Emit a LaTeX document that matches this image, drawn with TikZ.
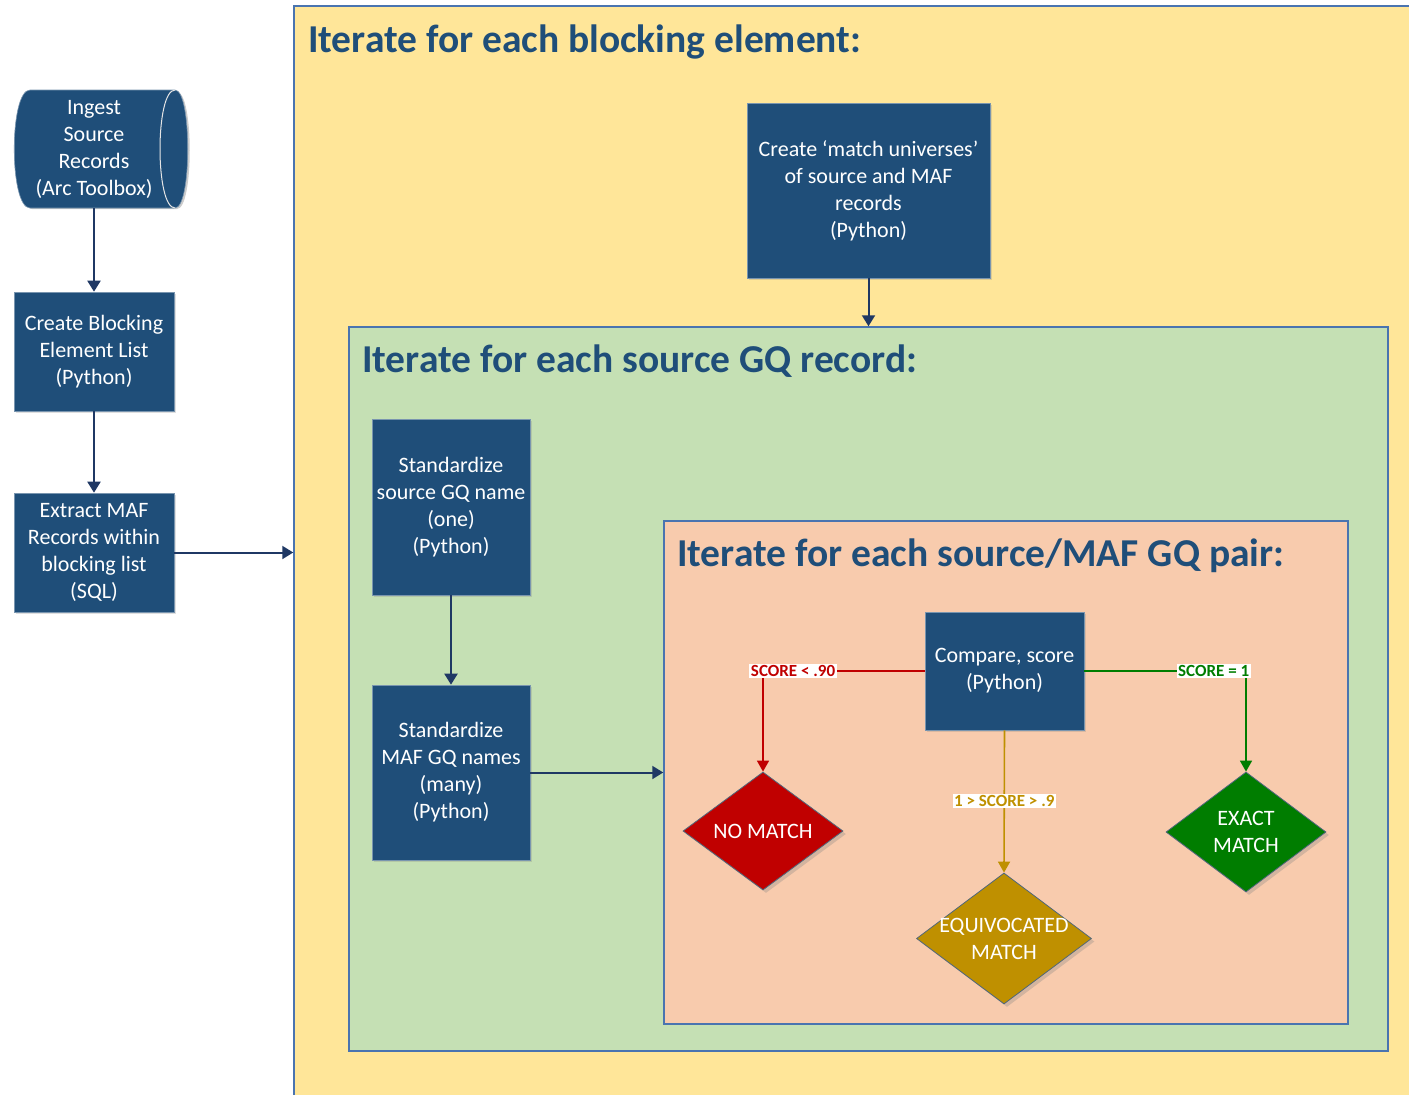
\documentclass[tikz,border=0pt]{standalone}
\usepackage{fontspec}
\setmainfont{Carlito}
\usetikzlibrary{arrows.meta,shapes.geometric,shadows}
\definecolor{navy}{HTML}{1F4E79}
\definecolor{arrowc}{HTML}{1F3864}
\definecolor{titlec}{HTML}{1F4E79}
\definecolor{yel}{HTML}{FFE699}
\definecolor{grn}{HTML}{C5E0B4}
\definecolor{salmon}{HTML}{F8CBAD}
\definecolor{framec}{HTML}{4A74B0}
\definecolor{nored}{HTML}{C00000}
\definecolor{exgreen}{HTML}{007D00}
\definecolor{gold}{HTML}{BF9000}
\tikzset{
  frame/.style={draw=framec, line width=1.5pt, inner sep=0pt},
  titletext/.style={text=titlec, font=\fontsize{39.5}{44}\selectfont\bfseries, inner sep=0pt},
  procbox/.style={fill=navy, draw=navy!60!white, line width=0.6pt, text=white, align=center,
    inner sep=0pt, font=\fontsize{22}{27}\selectfont,
    drop shadow={shadow xshift=2pt, shadow yshift=-2pt, opacity=0.25}},
  decision/.style={diamond, draw=navy!50!gray, line width=0.8pt, inner sep=0pt,
    drop shadow={shadow xshift=3pt, shadow yshift=-3pt, opacity=0.3}},
  dtext/.style={text=white, align=center, font=\fontsize{22}{27}\selectfont, inner sep=0pt},
  arr/.style={draw=arrowc, line width=2pt, -{Triangle[width=13pt,length=11pt]}},
  carr/.style={line width=1.6pt, -{Triangle[width=12pt,length=11pt]}},
  lbl/.style={fill=white, inner sep=1.5pt, font=\fontsize{17}{20}\selectfont\bfseries},
}
\begin{document}
\begin{tikzpicture}[x=1pt,y=-1pt]
\useasboundingbox (0,0) rectangle (1409,1095);
\clip (0,0) rectangle (1409,1095);
\fill[white] (0,0) rectangle (1409,1095);

% containers
\node[frame, fill=yel, minimum width=1146pt, minimum height=1104pt] (blk) at (867,558) {};
\node[titletext, anchor=base west] (t1) at (308,52) {Iterate for each blocking element:};
\node[frame, fill=grn, minimum width=1039pt, minimum height=724pt] (gq) at (868.5,689) {};
\node[titletext, anchor=base west] (t2) at (362,372) {Iterate for each source GQ record:};
\node[frame, fill=salmon, minimum width=684pt, minimum height=503pt] (pair) at (1006,772.5) {};
\node[titletext, anchor=base west] (t3) at (677,566) {Iterate for each source/MAF GQ pair:};

% ingest shape (direct data)
\fill[black, opacity=0.2] (32,92) -- (177,92) .. controls (194,92) and (194,209) .. (177,209) -- (32,209) .. controls (11,209) and (11,92) .. (32,92) -- cycle;
\filldraw[fill=navy, draw=navy!60!white, line width=0.6pt] (30,90) -- (175,90) .. controls (192,90) and (192,208) .. (175,208) -- (30,208) .. controls (9,208) and (9,90) .. (30,90) -- cycle;
\draw[white!80!gray, line width=1pt] (175,90) .. controls (155,90) and (155,208) .. (175,208);
\node[text=white, align=center, inner sep=0pt, font=\fontsize{22}{27}\selectfont,
  minimum width=150pt, minimum height=118pt] (ingest) at (94,149)
  {Ingest\\Source\\Records\\(Arc Toolbox)};

% process boxes
\node[procbox, minimum width=160pt, minimum height=119pt] (create) at (94,351.5)
  {Create Blocking\\Element List\\(Python)};
\node[procbox, minimum width=160pt, minimum height=119pt] (extract) at (94,552.5)
  {Extract MAF\\Records within\\blocking list\\(SQL)};
\node[procbox, minimum width=243pt, minimum height=175pt] (univ) at (868.5,190.5)
  {Create ‘match universes’\\of source and MAF\\records\\(Python)};
\node[procbox, minimum width=158pt, minimum height=176pt] (stds) at (451,507)
  {Standardize\\source GQ name\\(one)\\(Python)};
\node[procbox, minimum width=158pt, minimum height=175pt] (stdm) at (451,772.5)
  {Standardize\\MAF GQ names\\(many)\\(Python)};
\node[procbox, minimum width=159pt, minimum height=118pt] (cmp) at (1004.5,671)
  {Compare, score\\(Python)};

% decisions
\node[decision, fill=nored, minimum width=160pt, minimum height=118pt] (nomatch) at (763,831) {};
\node[dtext] (nomatchT) at (nomatch.center) {NO MATCH};
\node[decision, fill=exgreen, minimum width=160pt, minimum height=120pt] (exact) at (1246,832) {};
\node[dtext] (exactT) at (exact.center) {EXACT\\MATCH};
\node[decision, fill=gold, minimum width=175pt, minimum height=131pt] (equiv) at (1004,938.5) {};
\node[dtext] (equivT) at (equiv.center) {EQUIVOCATED\\MATCH};

% connectors
\draw[arr] (ingest.south) -- (create.north);
\draw[arr] (create.south) -- (extract.north);
\draw[arr] (extract.east) -- (extract.east -| blk.west);
\draw[arr] (univ.south) -- (univ.south |- gq.north);
\draw[arr] (stds.south) -- (stdm.north);
\draw[arr] (stdm.east) -- (pair.west);

\draw[carr, draw=nored] (cmp.west) -| node[lbl, text=nored, pos=0.407] (l1) {SCORE < .90} (nomatch.north);
\draw[carr, draw=exgreen] (cmp.east) -| node[lbl, text=exgreen, pos=0.40] (l2) {SCORE = 1} (exact.north);
\draw[carr, draw=gold] (cmp.south) -- node[lbl, text=gold, pos=0.497] (l3) {1 > SCORE > .9} (equiv.north);
\end{tikzpicture}
\end{document}
